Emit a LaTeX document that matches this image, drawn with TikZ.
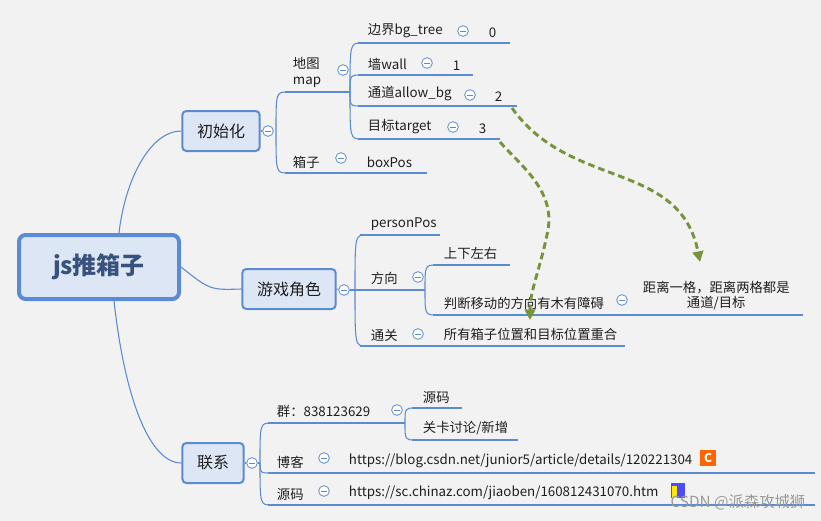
\documentclass[tikz,border=0pt]{standalone}
\usepackage{fontspec}
\setmainfont{Noto Sans CJK SC}
\usetikzlibrary{arrows.meta}
\definecolor{bl}{HTML}{5B8BD0}
\definecolor{bx}{HTML}{DCE6F4}
\definecolor{tx}{HTML}{1F1F1F}
\definecolor{gr}{HTML}{77933C}
\begin{document}
\begin{tikzpicture}[x=0.75pt,y=-0.75pt,
  ul/.style={bl,line width=2.2pt},
  br/.style={bl,line width=0.8pt},
  lb/.style={anchor=south west,inner sep=2pt,font=\fontsize{10}{11.5}\selectfont,text=tx},
  box/.style={draw=bl,fill=bx,rounded corners=3pt,line width=1.5pt,minimum height=30pt,font=\fontsize{12}{14}\selectfont,text=tx},
  col/.style={circle,draw=bl,fill=white,line width=0.6pt,inner sep=0pt,minimum size=8pt,path picture={\draw[bl,line width=0.6pt] ([xshift=-2pt]path picture bounding box.center)--([xshift=2pt]path picture bounding box.center);}},
  ga/.style={gr,dashed,dash pattern=on 5pt off 3pt,line width=2.2pt,-{Triangle[length=8pt,width=8pt]}}]
\fill[color=black!5] (0,0) rectangle (821,521);
\useasboundingbox (0,0) rectangle (821,521);
% root and main boxes
\node[box,line width=3pt,minimum width=120pt,minimum height=48pt,rounded corners=5pt,font=\fontsize{18}{20}\selectfont\bfseries,text=bl!60!black] (root) at (99,267) {js推箱子};
\node[box,minimum width=58pt] (init) at (221,131) {初始化};
\node[box,minimum width=70pt] (role) at (289,289) {游戏角色};
\node[box,minimum width=46pt] (cont) at (213,463) {联系};
\draw[br] (root.north) ++(20,0) coordinate (r1) .. controls (125,180) and (150,131) .. (init.west);
\draw[br] (root.east) .. controls (210,290) .. (role.west);
\draw[br] (root.south) ++(15,0) coordinate (r3) .. controls (125,400) and (150,463) .. (cont.west);
\node[col] (c1) at (268,131) {};
\node[col] (c2) at (344,290) {};
\node[col] (c3) at (252,463) {};
% init branch
\coordinate (b1) at (276,131);
\draw[br] (init.east)--(c1);
\draw[br] (b1) .. controls (276,92) .. (288,92);
\draw[br] (b1) .. controls (276,173) .. (288,173);
\draw[ul] (285,92)--(340,92); \node[lb,align=left] (map) at (290,90) {地图\\map};
\draw[ul] (285,173)--(335,173); \node[lb] (box) at (290,171) {箱子};
\node[col] (cm) at (343,70) {};
\coordinate (b2) at (350,92);
\draw[br] (340,92)--(b2);
\foreach \y in {43,75,106,139} {\draw[br] (b2) .. controls (350,\y) .. (362,\y);}
\draw[ul] (358,43)--(455,43); \node[lb] (t0) at (365,41) {边界bg\_tree};
\draw[ul] (358,75)--(418,75); \node[lb] (t1) at (365,73) {墙wall};
\draw[ul] (358,106)--(462,106); \node[lb] (t2) at (365,104) {通道allow\_bg};
\draw[ul] (358,139)--(443,139); \node[lb] (t3) at (365,137) {目标target};
\node[col] at (463,31) {}; \node[col] at (427,63) {}; \node[col] at (470,95) {}; \node[col] at (453,127) {};
\draw[br] (455,43)--(480,43); \draw[ul] (480,43)--(510,43); \node[lb] (v0) at (486,41) {0};
\draw[br] (418,75)--(443,75); \draw[ul] (443,75)--(473,75); \node[lb] (v1) at (450,73) {1};
\draw[br] (462,106)--(487,106); \draw[ul] (487,106)--(517,106); \node[lb] (v2) at (492,104) {2};
\draw[br] (443,139)--(470,139); \draw[ul] (470,139)--(500,139); \node[lb] (v3) at (476,137) {3};
\node[col] at (341,158) {};
\draw[br] (335,173)--(357,173); \draw[ul] (357,173)--(427,173); \node[lb] (bp) at (364,171) {boxPos};
% role branch
\draw[br] (role.east)--(c2);
\coordinate (b3) at (355,290);
\draw[br] (c2)--(b3);
\foreach \y in {235,290,346} {\draw[br] (b3) .. controls (355,\y) .. (366,\y);}
\draw[ul] (360,235)--(440,235); \node[lb] (pp) at (368,233) {personPos};
\draw[ul] (360,290)--(410,290); \node[lb] (dir) at (368,288) {方向};
\draw[ul] (360,346)--(428,346); \node[lb] (pass) at (368,344) {通关};
\node[col] at (418,277) {}; \node[col] at (418,334) {};
\coordinate (b4) at (425,290);
\draw[br] (410,290)--(b4);
\foreach \y in {265,315} {\draw[br] (b4) .. controls (425,\y) .. (437,\y);}
\draw[ul] (433,265)--(510,265); \node[lb] (ud) at (441,263) {上下左右};
\draw[ul] (433,315)--(615,315); \node[lb] (jd) at (441,313) {判断移动的方向有木有障碍};
\node[col] at (622,300) {};
\draw[br] (615,315)--(630,315); \draw[ul] (630,315)--(803,315);
\node[lb,align=center] (dist) at (640,313) {距离一格，距离两格都是\\通道/目标};
\draw[br] (428,346)--(433,346); \draw[ul] (433,346)--(625,346); \node[lb] (all) at (441,344) {所有箱子位置和目标位置重合};
% contact branch
\draw[br] (cont.east)--(c3);
\coordinate (b5) at (260,463);
\draw[br] (c3)--(b5);
\foreach \y in {423,473,505} {\draw[br] (b5) .. controls (260,\y) .. (272,\y);}
\draw[ul] (268,423)--(390,423); \node[lb] (grp) at (274,421) {群：838123629};
\node[col] at (397,410) {};
\coordinate (b6) at (405,423);
\draw[br] (390,423)--(b6);
\foreach \y in {408,440} {\draw[br] (b6) .. controls (405,\y) .. (416,\y);}
\draw[ul] (412,408)--(462,408); \node[lb] (src) at (420,406) {源码};
\draw[ul] (412,440)--(518,440); \node[lb] (lv) at (420,438) {关卡讨论/新增};
\draw[ul] (268,473)--(315,473); \node[lb] (blog) at (274,471) {博客};
\draw[ul] (268,505)--(315,505); \node[lb] (sc) at (274,503) {源码};
\node[col] at (324,458) {}; \node[col] at (324,491) {};
\draw[br] (315,473)--(340,473); \draw[ul] (340,473)--(815,473);
\draw[br] (315,505)--(340,505); \draw[ul] (340,505)--(815,505);
\node[lb] (u1) at (346,471) {https://blog.csdn.net/junior5/article/details/120221304};
\node[lb] (u2) at (346,503) {https://sc.chinaz.com/jiaoben/160812431070.htm};
\node[fill=orange!80!red,text=white,inner sep=0pt,minimum size=12pt,font=\bfseries\fontsize{9}{9}\selectfont] (ic1) at (708,458) {C};
\fill[blue!70] (671,483) rectangle (685,498); \fill[yellow!90!orange] (672,486) rectangle (677,498);
\node[anchor=east,text=black!40,font=\fontsize{11.5}{13}\selectfont] (wm) at (810,502) {CSDN @派森攻城狮};
% dashed arrows
\draw[ga] (512,108) .. controls (570,190) and (680,160) .. (700,262);
\draw[ga] (500,142) .. controls (520,165) and (555,190) .. (548,230) .. controls (540,270) and (530,290) .. (530,320);
\end{tikzpicture}
\end{document}
